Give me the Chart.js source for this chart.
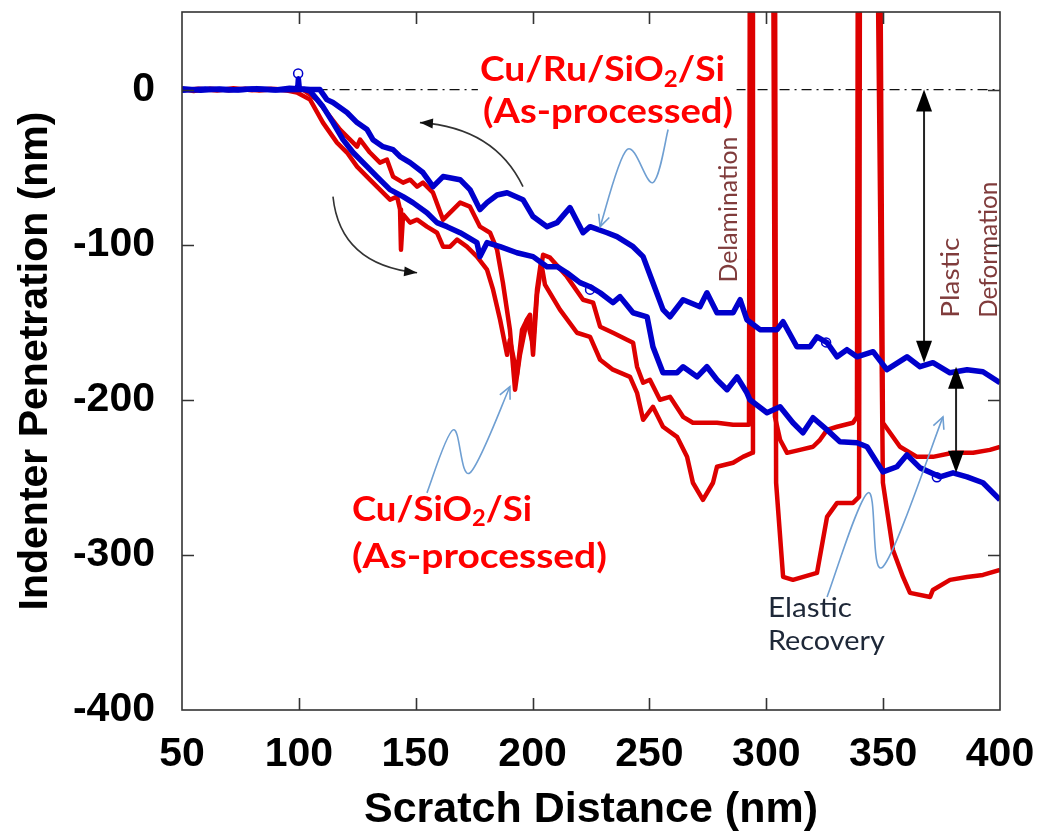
<!DOCTYPE html>
<html>
<head>
<meta charset="utf-8">
<script src="https://cdn.jsdelivr.net/npm/chart.js@4.4.1/dist/chart.umd.min.js"></script>
<style>
  html, body { margin: 0; padding: 0; background: #fff; }
</style>
</head>
<body>
<canvas id="chart" width="1044" height="839"></canvas>
<script>
// scratch test: indenter penetration vs scratch distance
const xTicks = [50, 100, 150, 200, 250, 300, 350, 400];
const yTicks = [-400, -300, -200, -100, 0];

// Cu/Ru/SiO2/Si, upper blue trace
const ruTopX = [50, 58, 66, 74, 82, 90, 96, 99.5, 99.8, 100.2, 104.8, 109, 112, 114.6, 120.6, 124.9, 129.2, 131.7, 136, 140.3, 143.3, 147.6, 153.1, 157.4, 161.7, 169, 173.2, 177.5, 180.5, 184.8, 189.1, 195.9, 200.2, 206.2, 210.5, 216, 221.6, 224.6, 231.9, 236.1, 243, 247.3, 251.5, 255.8, 258.8, 264.4, 271.6, 274.6, 278.9, 285.8, 288.8, 291.7, 297.3, 304.6, 307.2, 313.1, 318.7, 321.7, 326, 330.3, 334.5, 338.8, 345.7, 351.6, 360.2, 365.8, 371.3, 378.6, 385.9, 392.7, 400];
const ruTopY = [0.5, -0.5, 0.3, -0.3, 0.6, -0.2, 0.8, 0.5, 7, 0.5, 0, 0, -6.5, -8.4, -14.8, -21.3, -25.8, -32.3, -36.8, -38.7, -43.2, -47.1, -53.5, -62.6, -56.1, -58.1, -64.5, -77.4, -72.9, -68, -66.5, -71, -81.9, -88.4, -85.8, -76.1, -92.3, -88.4, -92.3, -94.8, -101.3, -107.7, -124.5, -141.9, -146.5, -135.5, -140, -131, -143.9, -143.9, -135.5, -148.4, -154.8, -154.8, -149.7, -165.8, -165.8, -159.4, -163.2, -172.3, -167.7, -172.3, -169, -180.6, -172.3, -178.7, -176.1, -182.6, -180.6, -181.9, -189];

// Cu/Ru/SiO2/Si, lower blue trace
const ruBotX = [50, 60, 70, 80, 90, 100, 102.6, 104.8, 110.3, 114.6, 118.9, 123.2, 129.2, 133.4, 139, 144.6, 148.8, 154.8, 159.1, 163.4, 169, 176.2, 177.5, 180.5, 186.1, 193.3, 200.2, 206.2, 210.5, 214.7, 220.3, 224.6, 228.9, 234.4, 237.4, 243, 249, 251.5, 255.8, 261.8, 264.4, 270.4, 274.6, 278.9, 283.2, 287.5, 291.7, 293, 300.3, 305.9, 311.4, 315.7, 320, 326, 331.5, 338.8, 343.1, 349.9, 355.9, 360.2, 365.8, 374.3, 379.9, 385.9, 392.7, 400];
const ruBotY = [-0.5, 0.3, -0.3, 0.3, -0.3, 0, 0, -1, -11, -21.3, -32.3, -40.6, -49.7, -56.1, -64.5, -69, -72.9, -79.4, -85.8, -88.4, -92.3, -98.7, -107.7, -98.7, -101.3, -105.2, -107.7, -114.2, -114.2, -118.1, -124.5, -127.1, -131, -137.4, -133.5, -143.9, -146.5, -165.8, -182.6, -182.6, -178.7, -185.2, -178.7, -187.1, -193.5, -185.2, -195.5, -200, -208.4, -204.5, -214.8, -221.3, -211.6, -219.4, -227.1, -227.7, -230.3, -246.5, -243.2, -235.5, -243.9, -249.7, -247.1, -249.7, -253.5, -264.5];

// Cu/SiO2/Si, upper red trace (goes off scale at the delamination spikes)
const cuTopX = [50, 55, 62, 70, 77, 83, 90, 96, 100, 101.8, 107.8, 113.3, 117.6, 121.9, 124.9, 126.2, 130.4, 134.7, 137.7, 140.3, 144.6, 147.6, 150.6, 153.1, 157.4, 161.7, 166, 169, 173.2, 177.5, 181.8, 184.8, 187.3, 190.3, 192.5, 194.6, 197.6, 198.9, 200.2, 201.9, 204.5, 207.5, 214.7, 221.6, 225.9, 228.9, 234.4, 240.4, 243, 244.7, 247.3, 250.2, 254.5, 258.8, 264.4, 268.6, 278.9, 285.8, 292.6, 293, 302.9, 303.7, 305.9, 308.9, 314.4, 320, 323, 326, 330.3, 337.1, 338.8, 339.2, 348.7, 349.9, 357.2, 364.5, 371.3, 379.9, 388.5, 395.7, 400];
const cuTopY = [0.5, -1, 0.6, -0.5, 0.6, -0.6, 0.4, -0.5, 0, 0, -6.5, -17.4, -25.8, -32.3, -36.8, -32.3, -40.6, -47.1, -45.2, -56.1, -60, -58.1, -62.6, -60, -66.5, -83.9, -77.4, -72.9, -75.5, -88.4, -92.3, -103.2, -124.5, -154.8, -193.5, -171, -148.4, -145.2, -171, -132.3, -106.5, -108.4, -120.6, -135.5, -137.4, -152.9, -156.8, -161.3, -163.2, -178.7, -189, -187.1, -200, -198.1, -211, -214.8, -214.8, -216.1, -216.1, 120, 120, -211, -225.8, -234.2, -232.3, -230.3, -225.8, -219.4, -217.4, -214.8, -211, 120, 120, -214.8, -230.3, -236.8, -236.8, -234.2, -234.2, -232.3, -230.3];

// Cu/SiO2/Si, lower red trace
const cuBotX = [50, 57, 65, 72, 80, 88, 95, 99.2, 104.8, 110.3, 116.3, 120.6, 124.9, 130.4, 134.7, 139, 142, 143.3, 143.7, 144.6, 147.6, 150.6, 154.8, 159.1, 161.7, 164.7, 167.7, 171.9, 176.2, 180.5, 183.1, 186.1, 189.1, 190.3, 193.3, 195.5, 197.6, 200.2, 201.9, 203.6, 205.3, 211.7, 219, 224.6, 228.9, 234.4, 241.7, 244.7, 247.3, 251.5, 255.8, 261.8, 266.1, 268.6, 272.9, 277.2, 278.9, 285.8, 290, 293.9, 294.3, 303.7, 304.2, 307.2, 311.4, 321.7, 326, 330.3, 337.1, 339.7, 340.1, 347.4, 349.9, 354.2, 358.5, 361.5, 370.1, 371.3, 378.6, 385.9, 392.7, 400];
const cuBotY = [-0.5, 0.5, -0.6, 0.8, -0.4, 0.5, -0.6, -1.9, -6.5, -21.3, -34.2, -40.6, -49.7, -58.1, -64.5, -71, -69, -77.4, -103.2, -80.6, -85.8, -83.9, -88.4, -92.3, -101.3, -101.3, -96.8, -101.3, -107.7, -116.1, -129, -148.4, -171, -161.3, -184, -154.8, -148.4, -164.5, -129, -111, -125.8, -141.9, -156.8, -159.4, -174.2, -180.6, -185.2, -195.5, -212.9, -204.5, -217.4, -223.9, -236.8, -253.5, -264.5, -253.5, -243.2, -240.6, -236.8, -234.2, 120, 120, -253.5, -314.2, -316.1, -311.6, -275.5, -266.5, -266.5, -262.6, 120, 120, -253.5, -296.8, -314.2, -324.5, -327.1, -322.6, -316.1, -314.2, -312.9, -309.7];

// small open circles left on the blue traces
const markX = [99.7, 224.6, 325.6, 373];
const markY = [10.3, -129, -163, -250];

// dash-dot reference at zero penetration
const zeroX = [108, 400];
const zeroY = [0, 0];

const BLUE = '#0000cc';
const RED = '#dd0000';

function pts(xs, ys) {
    const n = Math.min(xs.length, ys.length);
    const out = [];
    for (let i = 0; i < n; i++) out.push({ x: xs[i], y: ys[i] });
    return out;
}

function trace(data, color, width) {
    return {
        data: data,
        showLine: true,
        borderColor: color,
        backgroundColor: color,
        borderWidth: width,
        borderJoinStyle: 'round',
        pointRadius: 0,
        tension: 0,
    };
}

// draws a label made of pieces, squeezed/stretched to a target width
function drawRich(ctx, parts, x, y, targetW, font, subFont, subDy) {
    let w = 0;
    for (const p of parts) {
        ctx.font = p[1] ? subFont : font;
        w += ctx.measureText(p[0]).width;
    }
    ctx.save();
    ctx.translate(x, y);
    ctx.scale(targetW / w, 1);
    let cx = 0;
    for (const p of parts) {
        ctx.font = p[1] ? subFont : font;
        ctx.fillText(p[0], cx, p[1] ? subDy : 0);
        cx += ctx.measureText(p[0]).width;
    }
    ctx.restore();
}

function solidHead(ctx, tipX, tipY, fromX, fromY, len, half) {
    const a = Math.atan2(tipY - fromY, tipX - fromX);
    ctx.beginPath();
    ctx.moveTo(tipX, tipY);
    ctx.lineTo(tipX - len * Math.cos(a) + half * Math.sin(a), tipY - len * Math.sin(a) - half * Math.cos(a));
    ctx.lineTo(tipX - len * Math.cos(a) - half * Math.sin(a), tipY - len * Math.sin(a) + half * Math.cos(a));
    ctx.closePath();
    ctx.fill();
}

function openHead(ctx, tipX, tipY, fromX, fromY, len) {
    const a = Math.atan2(tipY - fromY, tipX - fromX);
    ctx.beginPath();
    ctx.moveTo(tipX - len * Math.cos(a - 0.45), tipY - len * Math.sin(a - 0.45));
    ctx.lineTo(tipX, tipY);
    ctx.lineTo(tipX - len * Math.cos(a + 0.45), tipY - len * Math.sin(a + 0.45));
    ctx.stroke();
}

// smooth curve through points (catmull-rom)
function squiggle(ctx, p) {
    ctx.beginPath();
    ctx.moveTo(p[0][0], p[0][1]);
    for (let i = 0; i < p.length - 1; i++) {
        const a = p[Math.max(i - 1, 0)], b = p[i], c = p[i + 1], d = p[Math.min(i + 2, p.length - 1)];
        ctx.bezierCurveTo(b[0] + (c[0] - a[0]) / 6, b[1] + (c[1] - a[1]) / 6,
                          c[0] - (d[0] - b[0]) / 6, c[1] - (d[1] - b[1]) / 6, c[0], c[1]);
    }
    ctx.stroke();
}

const annotations = {
    id: 'annotations',
    afterDatasetsDraw(chart) {
        const ctx = chart.ctx;
        const X = v => chart.scales.x.getPixelForValue(v);
        const Y = v => chart.scales.y.getPixelForValue(v);
        ctx.save();

        // white patch behind the upper label (hides the dash-dot line)
        ctx.fillStyle = '#fff';
        ctx.fillRect(X(176.6), Y(25.8), X(287.3) - X(176.6), Y(-27) - Y(25.8));

        // red sample labels
        ctx.fillStyle = '#ff0000';
        ctx.textBaseline = 'middle';
        ctx.textAlign = 'left';
        const big = 'bold 34px Lato', sub = 'bold 22px Lato';
        drawRich(ctx, [['Cu/Ru/SiO', 0], ['2', 1], ['/Si', 0]], X(177.5), Y(12.3), 245, big, sub, 9);
        drawRich(ctx, [['(As-processed)', 0]], X(178.8), Y(-14.8), 250, big, sub, 9);
        drawRich(ctx, [['Cu/SiO', 0], ['2', 1], ['/Si', 0]], X(122.7), Y(-271), 180, big, sub, 9);
        drawRich(ctx, [['(As-processed)', 0]], X(122.7), Y(-301.3), 255, big, sub, 9);

        // rotated notes
        ctx.fillStyle = '#803c3c';
        const note = '25px Lato';
        ctx.save();
        ctx.translate(X(284.0), Y(-77.4));
        ctx.rotate(-Math.PI / 2);
        ctx.textAlign = 'center';
        ctx.font = note;
        const dw = ctx.measureText('Delamination').width;
        ctx.scale(146 / dw, 1);
        ctx.fillText('Delamination', 0, 0);
        ctx.restore();

        ctx.save();
        ctx.translate(X(379.0), Y(-147.1));
        ctx.rotate(-Math.PI / 2);
        drawRich(ctx, [['Plastic', 0]], 0, 0, 80, note, note, 0);
        ctx.restore();
        ctx.save();
        ctx.translate(X(395.3), Y(-147.1));
        ctx.rotate(-Math.PI / 2);
        drawRich(ctx, [['Deformation', 0]], 0, 0, 136, note, note, 0);
        ctx.restore();

        ctx.fillStyle = '#1e2838';
        drawRich(ctx, [['Elastic', 0]], X(300.7), Y(-334.8), 84, '26px Lato', '26px Lato', 0);
        drawRich(ctx, [['Recovery', 0]], X(300.7), Y(-356.1), 117, '26px Lato', '26px Lato', 0);

        // double-headed black arrows
        ctx.strokeStyle = '#222';
        ctx.fillStyle = '#000';
        ctx.lineWidth = 2;
        const arrows = [[367.5, 0, -176.1], [381.2, -178.7, -247.1]];
        for (const a of arrows) {
            const x = X(a[0]), y1 = Y(a[1]), y2 = Y(a[2]);
            ctx.beginPath();
            ctx.moveTo(x, y1 + 10);
            ctx.lineTo(x, y2 - 10);
            ctx.stroke();
            solidHead(ctx, x, y1, x, y2, 22, 8);
            solidHead(ctx, x, y2, x, y1, 22, 8);
        }

        // curved black arrows (loading / unloading)
        ctx.lineWidth = 1.6;
        ctx.strokeStyle = '#333';
        ctx.fillStyle = '#111';
        const curves = [
            [[195.9, -62.6], [183.8, -24.5], [151.8, -21.3]],
            [[114.6, -69], [117.6, -112.9], [150.6, -118.1]],
        ];
        for (const c of curves) {
            const s = [X(c[0][0]), Y(c[0][1])], k = [X(c[1][0]), Y(c[1][1])], e = [X(c[2][0]), Y(c[2][1])];
            ctx.beginPath();
            ctx.moveTo(s[0], s[1]);
            ctx.quadraticCurveTo(k[0], k[1], e[0], e[1]);
            ctx.stroke();
            solidHead(ctx, e[0], e[1], k[0], k[1], 13, 5);
        }

        // light blue squiggly pointers
        ctx.strokeStyle = '#6f9fd2';
        ctx.lineWidth = 1.6;
        const wiggles = [
            [[258, -25.8], [251.5, -60], [240.4, -38.7], [228.9, -88.4]],
            [[154.8, -260], [166, -219.4], [173.2, -247.1], [190.3, -191.6]],
            [[326, -327.1], [343.5, -260], [349.9, -307.7], [375.6, -211]],
        ];
        for (const w of wiggles) {
            const p = w.map(q => [X(q[0]), Y(q[1])]);
            squiggle(ctx, p);
            const n = p.length;
            openHead(ctx, p[n - 1][0], p[n - 1][1], p[n - 2][0] + (p[n - 1][0] - p[n - 2][0]) * 0.8, p[n - 2][1] + (p[n - 1][1] - p[n - 2][1]) * 0.8, 13);
        }
        ctx.restore();
    },
    afterDraw(chart) {
        // plot frame with inward ticks on all four sides
        const ctx = chart.ctx;
        const { left, right, top, bottom } = chart.chartArea;
        const X = v => chart.scales.x.getPixelForValue(v);
        const Y = v => chart.scales.y.getPixelForValue(v);
        ctx.save();
        ctx.strokeStyle = '#333';
        ctx.lineWidth = 1.6;
        ctx.strokeRect(left, top, right - left, bottom - top);
        ctx.beginPath();
        for (const v of xTicks.slice(1, -1)) {
            const x = Math.round(X(v)) + 0.5;
            ctx.moveTo(x, bottom); ctx.lineTo(x, bottom - 12);
            ctx.moveTo(x, top); ctx.lineTo(x, top + 12);
        }
        for (const v of yTicks.slice(1)) {
            const y = Math.round(Y(v)) + 0.5;
            ctx.moveTo(left, y); ctx.lineTo(left + 12, y);
            ctx.moveTo(right, y); ctx.lineTo(right - 12, y);
        }
        ctx.stroke();
        ctx.restore();
    }
};

const tickFont = { family: '"Liberation Sans", Arial, sans-serif', size: 41, weight: 'bold' };

new Chart(document.getElementById('chart'), {
    type: 'scatter',
    data: {
        datasets: [
            {
                data: pts(markX, markY),
                pointStyle: 'circle',
                pointRadius: 4.5,
                borderColor: BLUE,
                backgroundColor: 'rgba(0,0,0,0)',
                borderWidth: 1.5,
                showLine: false,
            },
            trace(pts(ruTopX, ruTopY), BLUE, 5.5),
            trace(pts(ruBotX, ruBotY), BLUE, 5.5),
            trace(pts(cuTopX, cuTopY), RED, 4.5),
            trace(pts(cuBotX, cuBotY), RED, 4.5),
            Object.assign(trace(pts(zeroX, zeroY), '#111', 1.2), { borderDash: [10, 5, 2, 5] }),
        ],
    },
    options: {
        responsive: false,
        animation: false,
        layout: { padding: { top: 12, right: 44, left: 0, bottom: 0 } },
        plugins: { legend: { display: false }, tooltip: { enabled: false } },
        scales: {
            x: {
                type: 'linear',
                min: 50,
                max: 400,
                afterBuildTicks: s => { s.ticks = xTicks.map(v => ({ value: v })); },
                afterFit: s => { s.height = 129; s.paddingLeft = 0; s.paddingRight = 0; },
                grid: { display: false, drawTicks: false },
                border: { display: false },
                ticks: { font: tickFont, color: '#000', padding: 20, maxRotation: 0, autoSkip: false },
                title: {
                    display: true,
                    text: 'Scratch Distance (nm)',
                    color: '#000',
                    font: { family: '"Liberation Sans", Arial, sans-serif', size: 43, weight: 'bold' },
                    padding: { top: 0, bottom: 3 },
                },
            },
            y: {
                type: 'linear',
                min: -400,
                max: 50,
                afterBuildTicks: s => { s.ticks = yTicks.map(v => ({ value: v })); },
                afterFit: s => { s.width = 182; s.paddingTop = 0; s.paddingBottom = 0; },
                grid: { display: false, drawTicks: false },
                border: { display: false },
                ticks: { font: tickFont, color: '#000', padding: 27, autoSkip: false },
                title: {
                    display: true,
                    text: 'Indenter Penetration (nm)',
                    color: '#000',
                    font: { family: '"Liberation Sans", Arial, sans-serif', size: 41, weight: 'bold' },
                    padding: { top: 11, bottom: 0 },
                },
            },
        },
    },
    plugins: [annotations],
});
</script>
</body>
</html>
